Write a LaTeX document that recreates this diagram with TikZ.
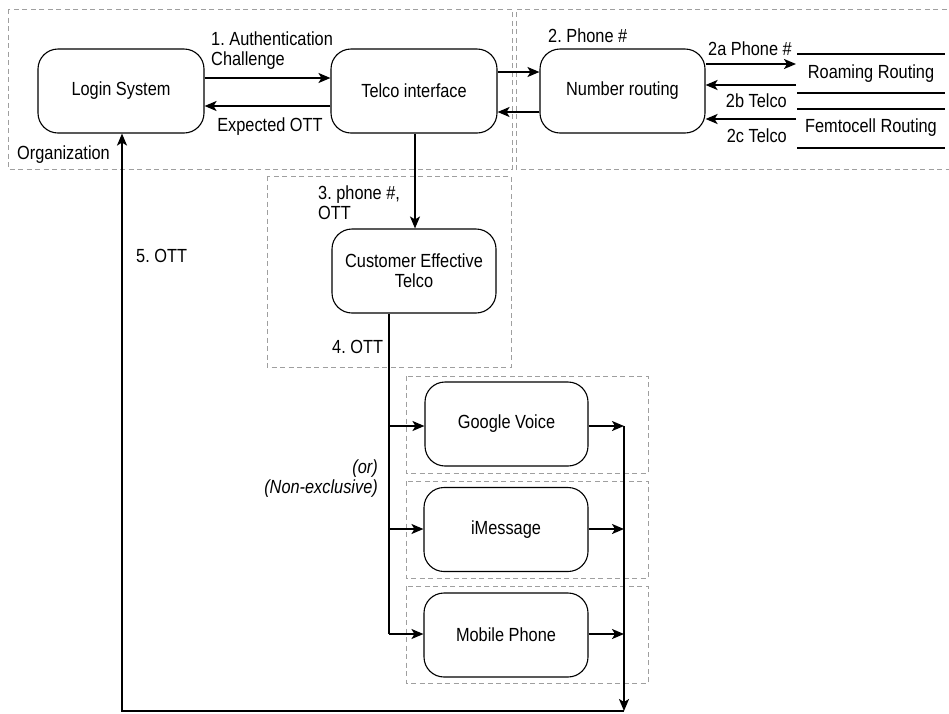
\documentclass[tikz,border=0pt]{standalone}
\usepackage{fontspec}
\setmainfont{Liberation Sans}[FakeStretch=0.86]
\usetikzlibrary{arrows.meta}
\frenchspacing
\tikzset{
  x=1pt,y=-1pt,
  txt/.style={font=\fontsize{19}{21}\selectfont},
  proc/.style={draw,line width=1.1pt,rounded corners=20pt,minimum width=#1,minimum height=84pt,inner sep=0pt,align=center,txt},
  proc/.default=165pt,
  grp/.style={draw=gray!75,line width=0.9pt,dash pattern=on 5pt off 3.5pt},
  flow/.style={line width=1.9pt,-{Stealth[length=12pt,width=10pt,inset=3pt]}},
  line/.style={line width=1.9pt},
  lbl/.style={inner sep=0pt,txt},
  store/.style={line width=1.1pt},
}
\begin{document}
\begin{tikzpicture}
\useasboundingbox (0,0) rectangle (949,713);
% groups
\draw[grp] (8,9) rectangle (512,169);
\draw[grp] (955,9) -- (516,9) -- (516,169) -- (955,169);
\draw[grp] (267,176) rectangle (511,367);
\draw[grp] (406,376) rectangle (648,473);
\draw[grp] (406,481) rectangle (648,578);
\draw[grp] (406,586) rectangle (648,683);
% nodes
\node[proc=166pt] (login) at (121,91) {Login System};
\node[proc=166pt] (telco) at (414,91) {Telco interface};
\node[proc] (nr) at (622.5,91) {Number routing};
\node[proc=164pt] (cet) at (414,271) {Customer Effective\\[-1pt]Telco};
\node[proc=163pt] (gv) at (506.5,424) {Google Voice};
\node[proc=164pt] (im) at (506,529.5) {iMessage};
\node[proc=164pt] (mp) at (506,635) {Mobile Phone};
% data stores
\coordinate (rr1) at (797,54); \coordinate (rr2) at (945,54);
\coordinate (rr3) at (797,93); \coordinate (rr4) at (945,93);
\coordinate (fr1) at (797,109); \coordinate (fr2) at (945,109);
\coordinate (fr3) at (797,148); \coordinate (fr4) at (945,148);
\draw[store] (rr1) -- (rr2); \draw[store] (rr3) -- (rr4);
\draw[store] (fr1) -- (fr2); \draw[store] (fr3) -- (fr4);
\node[lbl] (roam) at (871,74) {Roaming Routing};
\node[lbl] (femto) at (871,128) {Femtocell Routing};
% arrows top
\draw[flow] (login.east |- 0,78) -- (telco.west |- 0,78);
\draw[flow] (telco.west |- 0,106) -- (login.east |- 0,106);
\draw[flow] (telco.east |- 0,72) -- (nr.west |- 0,72);
\draw[flow] (nr.west |- 0,112) -- (telco.east |- 0,112);
\coordinate (s2a) at (796,64);
\coordinate (s2b) at (796,85);
\coordinate (s2c) at (796,119);
\draw[flow] (nr.east |- s2a) -- (s2a);
\draw[flow] (s2b) -- (nr.east |- s2b);
\draw[flow] (s2c) -- (nr.east |- s2c);
% telco to cet
\draw[flow] (telco.south -| 415,0) -- (cet.north -| 415,0);
% cet to channels
\coordinate (br) at (389,634);
\draw[line] (cet.south -| br) -- (br);
\draw[flow] (389,426) -- (gv.west |- 0,426);
\draw[flow] (389,529) -- (im.west |- 0,529);
\draw[flow] (br) -- (mp.west |- br);
% channels to bus
\coordinate (bt) at (624,426);
\coordinate (bb) at (624,711);
\coordinate (bl) at (122,711);
\draw[flow] (gv.east |- bt) -- (bt);
\draw[flow] (im.east |- 0,529) -- (624,529);
\draw[flow] (mp.east |- 0,634) -- (624,634);
\draw[flow] (bt) -- (bb);
\draw[flow] (bb) -- (bl) -- (login.south -| bl);
% labels
\node[lbl,anchor=west,align=left] (l1) at (211,51) {1. Authentication\\[-1pt]Challenge};
\node[lbl] (lexp) at (270,127) {Expected OTT};
\node[lbl,anchor=west] (lorg) at (17,155) {Organization};
\node[lbl,anchor=west] (l2) at (548,36) {2. Phone \#};
\node[lbl,anchor=east] (l2a) at (792,49) {2a Phone \#};
\node[lbl,anchor=east] (l2b) at (787,101) {2b Telco};
\node[lbl,anchor=east] (l2c) at (787,136) {2c Telco};
\node[lbl,anchor=west,align=left] (l3) at (318,203) {3. phone \#,\\[-1pt]OTT};
\node[lbl,anchor=west] (l5) at (136,256) {5. OTT};
\node[lbl,anchor=west] (l4) at (332,347) {4. OTT};
\node[lbl,anchor=east,align=right,font=\fontsize{19}{21}\selectfont\itshape] (lor) at (378,479) {(or)\\[-1pt](Non-exclusive)};
\end{tikzpicture}
\end{document}
